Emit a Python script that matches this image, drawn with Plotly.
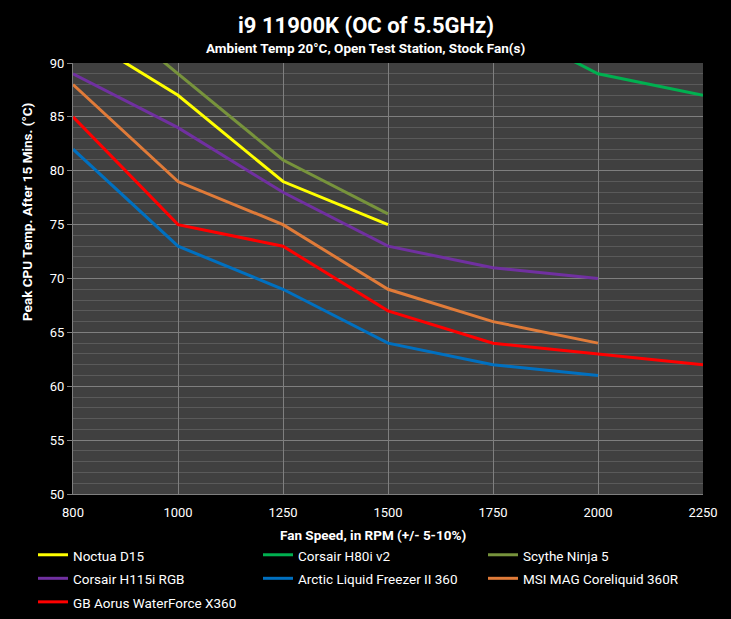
import plotly.graph_objects as go

rpm = ["800", "1000", "1250", "1500", "1750", "2000", "2250"]

noctua_d15 = [93, 87, 79, 75, None, None, None]
corsair_h80i = [None, None, None, None, 94, 89, 87]
scythe_ninja5 = [97, 89, 81, 76, None, None, None]
corsair_h115i = [89, 84, 78, 73, 71, 70, None]
arctic_lf2_360 = [82, 73, 69, 64, 62, 61, None]
msi_coreliquid = [88, 79, 75, 69, 66, 64, None]
gb_aorus_x360 = [85, 75, 73, 67, 64, 63, 62]

series = [
    ("Noctua D15", noctua_d15, "#FFFF00"),
    ("Corsair H80i v2", corsair_h80i, "#00B050"),
    ("Scythe Ninja 5", scythe_ninja5, "#77933C"),
    ("Corsair H115i RGB", corsair_h115i, "#7030A0"),
    ("Arctic Liquid Freezer II 360", arctic_lf2_360, "#0070C0"),
    ("MSI MAG Coreliquid 360R", msi_coreliquid, "#E07B39"),
    ("GB Aorus WaterForce X360", gb_aorus_x360, "#FF0000"),
]

title_text = "i9 11900K (OC of 5.5GHz)"
subtitle_text = "Ambient Temp 20°C, Open Test Station, Stock Fan(s)"
x_title = "Fan Speed, in RPM (+/- 5-10%)"
y_title = "Peak CPU Temp. After 15 Mins. (°C)"

FONT = "Roboto, Noto Sans, sans-serif"

W, H = 731, 619
L, R, T, B = 73, 28, 63, 125
PW, PH = W - L - R, H - T - B


def px(xp):
    return (xp - L) / PW


def py(yp):
    return (H - B - yp) / PH


fig = go.Figure()
for name, vals, col in series:
    fig.add_trace(go.Scatter(
        x=rpm, y=vals, mode="lines", line=dict(color=col, width=3),
        name="<span style='font-size:13.5px'>" + name + "</span>",
        connectgaps=False))

fig.update_layout(
    width=W, height=H,
    paper_bgcolor="#000000", plot_bgcolor="#404040",
    margin=dict(l=L, r=R, t=T, b=B, autoexpand=False),
    font=dict(family=FONT, color="#FFFFFF", size=13),
    showlegend=True,
    legend=dict(orientation="h", x=px(33), xanchor="left", y=py(538), yanchor="top",
                entrywidth=180, entrywidthmode="pixels",
                font=dict(size=15.8, family=FONT, color="#FFFFFF"),
                bgcolor="rgba(0,0,0,0)", itemwidth=30),
    annotations=[
        dict(text="<b>" + title_text + "</b>", xref="paper", yref="paper",
             x=px(W / 2), y=py(25), xanchor="center", yanchor="middle",
             showarrow=False, font=dict(size=22, color="#FFFFFF")),
        dict(text="<b>" + subtitle_text + "</b>", xref="paper", yref="paper",
             x=px(W / 2), y=py(48), xanchor="center", yanchor="middle",
             showarrow=False, font=dict(size=13.5, color="#FFFFFF")),
        dict(text="<b>" + x_title + "</b>", xref="paper", yref="paper",
             x=px(373), y=py(535), xanchor="center", yanchor="middle",
             showarrow=False, font=dict(size=13.5, color="#FFFFFF")),
        dict(text="<b>" + y_title + "</b>", xref="paper", yref="paper",
             x=px(27), y=py(212), xanchor="center", yanchor="middle", textangle=-90,
             showarrow=False, font=dict(size=13.5, color="#FFFFFF")),
    ],
)

fig.update_xaxes(
    type="category", range=[0, 6], showgrid=True, gridcolor="#7F7F7F", gridwidth=1,
    showline=True, linecolor="#7F7F7F", linewidth=1,
    ticks="outside", ticklen=6, tickcolor="rgba(0,0,0,0)",
    tickfont=dict(size=13, color="#FFFFFF"), zeroline=False,
)
fig.update_yaxes(
    range=[50, 90], dtick=5, showgrid=True, gridcolor="#7F7F7F", gridwidth=1,
    minor=dict(dtick=1, showgrid=True, gridcolor="#5A5A5A", gridwidth=1),
    showline=True, linecolor="#7F7F7F", linewidth=1,
    ticks="outside", ticklen=5, tickcolor="#7F7F7F",
    tickfont=dict(size=13, color="#FFFFFF"), zeroline=False,
)

fig.write_html(
    "out.html",
    config={"displayModeBar": False},
    post_script="document.body.style.margin='0';document.body.style.background='#000';",
)
